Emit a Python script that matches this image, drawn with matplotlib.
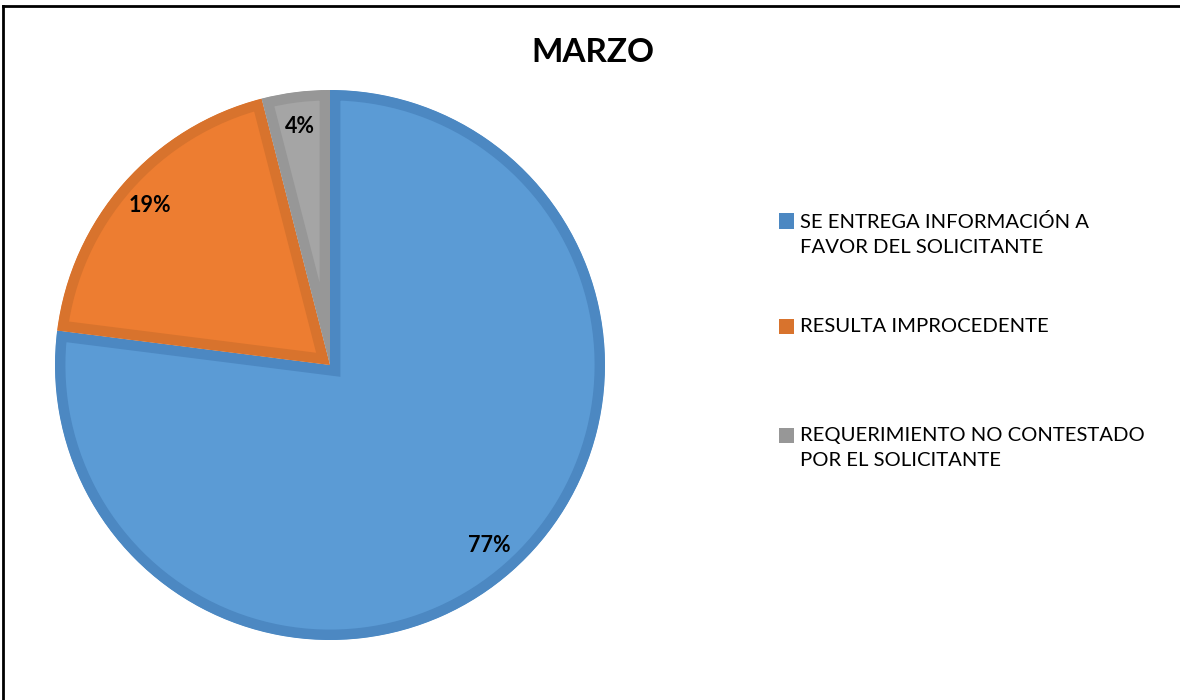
import matplotlib.pyplot as plt
from matplotlib.lines import Line2D
from matplotlib.patches import Rectangle, Wedge

plt.rcParams['font.family'] = ['Lato', 'DejaVu Sans']

# datos del gráfico
titulo = 'MARZO'
categorias = ['SE ENTREGA INFORMACIÓN A\nFAVOR DEL SOLICITANTE',
              'RESULTA IMPROCEDENTE',
              'REQUERIMIENTO NO CONTESTADO\nPOR EL SOLICITANTE']
porcentajes = [77, 19, 4]
colores = ['#5B9BD5', '#ED7D31', '#A5A5A5']
bordes = ['#4C88C2', '#D8732D', '#979797']

fig = plt.figure(figsize=(11.8, 7.0), dpi=100)
ax = fig.add_axes([55 / 1180, 60 / 700, 550 / 1180, 550 / 700])

wedges, textos, autotextos = ax.pie(
    porcentajes, colors=colores, startangle=90, counterclock=False,
    autopct='%1.0f%%', pctdistance=0.875,
    textprops={'fontsize': 15.5, 'fontweight': 'bold', 'color': 'black'})

# borde interior más oscuro en cada sector
for w, c in zip(wedges, bordes):
    w.set_edgecolor(c)
    w.set_linewidth(15)
    recorte = Wedge(w.center, w.r, w.theta1, w.theta2, transform=ax.transData)
    w.set_clip_on(True)
    w.set_clip_path(recorte)

ax.set_xlim(-1, 1)
ax.set_ylim(-1, 1)
ax.set_aspect('equal')
ax.axis('off')

fig.text(593 / 1180, 1 - 53 / 700, titulo, fontsize=24, fontweight='bold',
         ha='center', va='center')

# leyenda
pos_y = [221, 326, 435]
for lab, c, y in zip(categorias, bordes, pos_y):
    fig.patches.append(Rectangle((779 / 1180, 1 - (y + 7.5) / 700), 15 / 1180, 15 / 700,
                                 transform=fig.transFigure, facecolor=c, edgecolor='none'))
    fig.text(800 / 1180, 1 - (y - 8) / 700, lab, fontsize=14.6, ha='left',
             va='top', linespacing=1.55)

# marco del gráfico
fig.add_artist(Line2D([3 / 1180, 1], [1 - 6 / 700, 1 - 6 / 700], color='black', lw=2,
                      transform=fig.transFigure))
fig.add_artist(Line2D([3 / 1180, 3 / 1180], [0, 1 - 6 / 700], color='black', lw=2,
                      transform=fig.transFigure))

fig.savefig('out.png', dpi=100)
